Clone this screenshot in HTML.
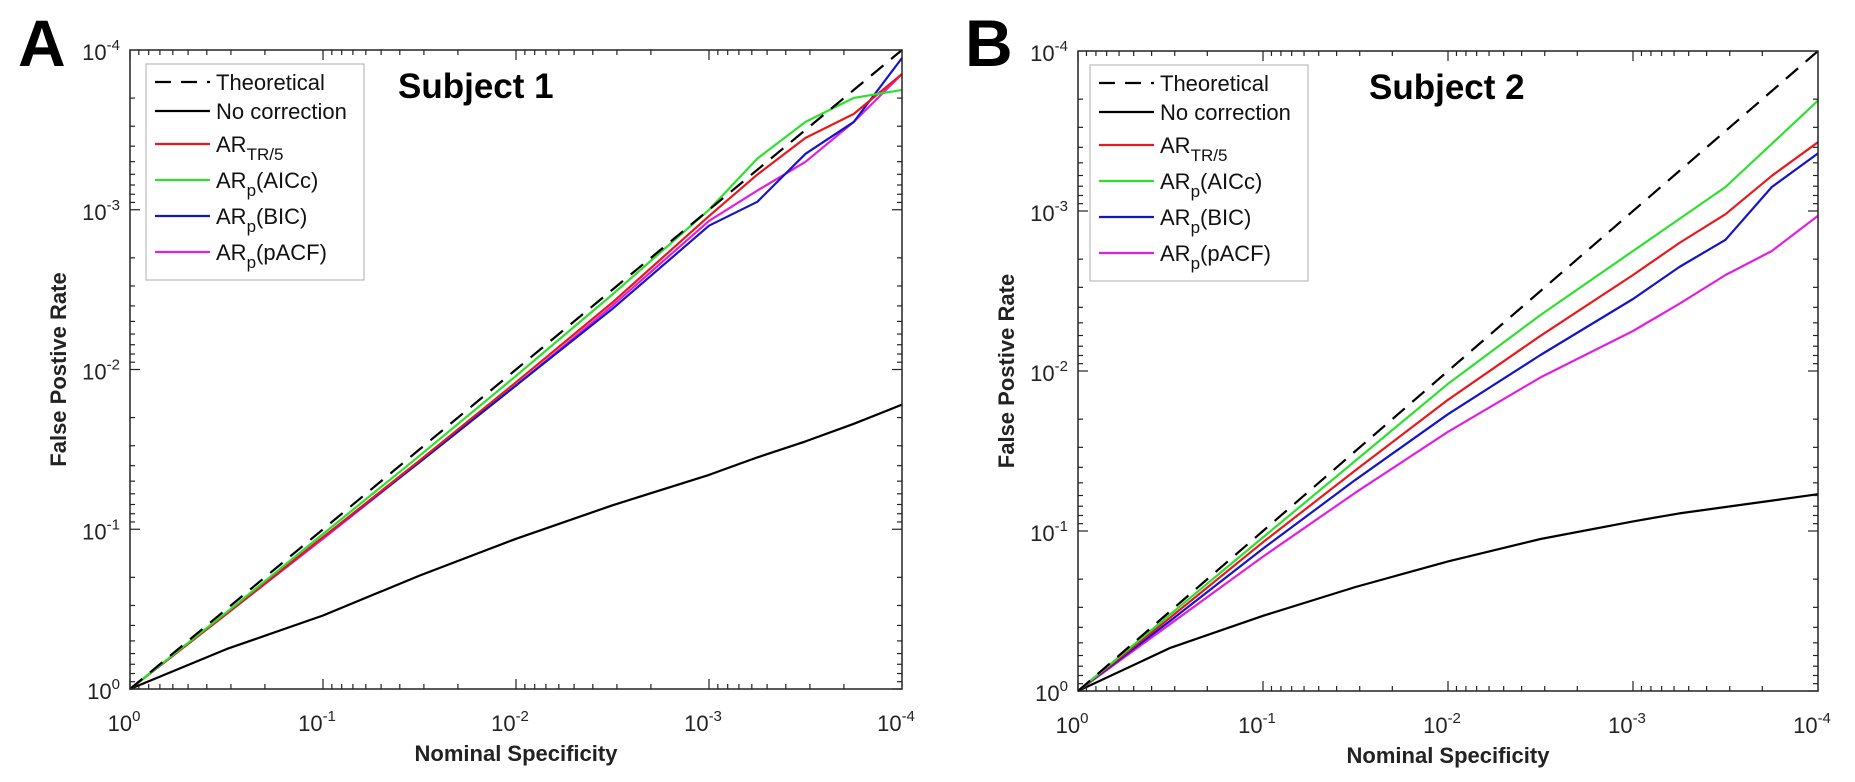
<!DOCTYPE html>
<html><head><meta charset="utf-8"><style>
html,body{margin:0;padding:0;background:#fff;}
svg{display:block;font-family:"Liberation Sans",Arial,sans-serif;}
</style></head><body>
<svg id="fig" width="1855" height="782" viewBox="0 0 1855 782" xmlns="http://www.w3.org/2000/svg">
<text x="18" y="66" font-size="66" font-weight="bold">A</text>
<text x="965" y="66" font-size="66" font-weight="bold">B</text>
</svg>
<script>
const tVals=[0,0.5,1,1.5,2,2.5,3,3.25,3.5,3.75,4];
const tickLabels=["0","-1","-2","-3","-4"];
const seriesNames=["Theoretical","No correction","AR_TR/5","AR_p(AICc)","AR_p(BIC)","AR_p(pACF)"];
const A_theo=[0,0.5,1,1.5,2,2.5,3,3.25,3.5,3.75,4];
const A_noc=[0,0.25,0.46,0.71,0.94,1.15,1.34,1.45,1.55,1.66,1.78];
const A_red=[0,0.47,0.95,1.43,1.92,2.42,2.96,3.22,3.45,3.6,3.85];
const A_green=[0,0.48,0.97,1.46,1.96,2.47,3.0,3.32,3.55,3.7,3.75];
const A_blue=[0,0.47,0.95,1.42,1.9,2.38,2.9,3.05,3.35,3.55,3.95];
const A_mag=[0,0.47,0.94,1.42,1.9,2.4,2.93,3.12,3.3,3.55,3.85];
const B_theo=[0,0.5,1,1.5,2,2.5,3,3.25,3.5,3.75,4];
const B_noc=[0,0.27,0.47,0.65,0.81,0.95,1.06,1.11,1.15,1.19,1.23];
const B_red=[0,0.46,0.93,1.38,1.82,2.22,2.6,2.8,2.98,3.22,3.43];
const B_green=[0,0.48,0.96,1.44,1.92,2.35,2.75,2.95,3.15,3.42,3.69];
const B_blue=[0,0.44,0.89,1.32,1.73,2.1,2.45,2.65,2.82,3.15,3.36];
const B_mag=[0,0.42,0.84,1.24,1.62,1.96,2.25,2.42,2.6,2.75,2.97];
const colors=["#000","#000","#e8191b","#2ee02e","#1515c8","#e020e0"];
const NS="http://www.w3.org/2000/svg";
const svg=document.getElementById('fig');
function mk(tag,attrs,parent){const e=document.createElementNS(NS,tag);for(const k in attrs)e.setAttribute(k,attrs[k]);(parent||svg).appendChild(e);return e;}
function panel(p){
  const g=mk('g',{});
  
  
  const L=p.L,R=p.R,T=p.T,B=p.B;
  const sx=v=>L+(R-L)*v/4, sy=v=>B-(B-T)*v/4;
  const data=[p.theo,p.noc,p.red,p.green,p.blue,p.mag];
  const order=[1,5,4,2,3,0];
  order.forEach(i=>{
    const pts=tVals.map((t,j)=>sx(t).toFixed(1)+','+sy(data[i][j]).toFixed(1)).join(' ');
    const pl=mk('polyline',{points:pts,fill:'none',stroke:colors[i],'stroke-width':2.2,'stroke-linejoin':'round'},g);
    if(i===0)pl.setAttribute('stroke-dasharray','16,10');
    
    
  });
  for(let d=0;d<4;d++){for(let m=1;m<=9;m++){
    const v=d+(m===1?0:(1-Math.log10(m)));
    const len=m===1?10:5;
    if(v>4)continue;
    const x=sx(v),y=sy(v);
    mk('line',{x1:x,y1:B,x2:x,y2:B-len,stroke:'#222','stroke-width':1.2},g);
    mk('line',{x1:x,y1:T,x2:x,y2:T+len,stroke:'#222','stroke-width':1.2},g);
    mk('line',{x1:L,y1:y,x2:L+len,y2:y,stroke:'#222','stroke-width':1.2},g);
    mk('line',{x1:R,y1:y,x2:R-len,y2:y,stroke:'#222','stroke-width':1.2},g);
  }}
  const frame=mk('rect',{x:L,y:T,width:R-L,height:B-T,fill:'none',stroke:'#222','stroke-width':1.5},g);
  
  
  tickLabels.forEach((lab,i)=>{
    const tx=mk('text',{x:sx(i)-6,y:B+42,'font-size':22,fill:'#222','text-anchor':'middle'},g);
    tx.innerHTML='10<tspan dy="-10" font-size="15">'+lab+'</tspan>';
    
    
    const ty=mk('text',{x:L-10,y:sy(i)+10,'font-size':22,fill:'#222','text-anchor':'end'},g);
    ty.innerHTML='10<tspan dy="-10" font-size="15">'+lab+'</tspan>';
    
    
  });
  const xl=mk('text',{x:(L+R)/2,y:B+72,'font-size':22,'font-weight':'bold',fill:'#222','text-anchor':'middle'},g);
  xl.textContent='Nominal Specificity';
  
  
  const yl=mk('text',{x:0,y:0,'font-size':22,'font-weight':'bold',fill:'#222','text-anchor':'middle',transform:'translate('+(L-64)+','+((T+B)/2)+') rotate(-90)'},g);
  yl.textContent='False Postive Rate';
  
  
  const ti=mk('text',{x:p.titleX,y:T+48,'font-size':35,'font-weight':'bold',fill:'#000'},g);
  ti.textContent=p.title;
  
  
  const lg=mk('g',{},g);
  
  
  const lx=p.legX;
  mk('rect',{x:lx,y:T+14,width:218,height:216,fill:'#fff',stroke:'#bbb','stroke-width':1.2},lg);
  const rowsY=[32,61,94,130,166,202];
  const labels=['Theoretical','No correction','AR<tspan dy="8" font-size="17">TR/5</tspan>','AR<tspan dy="8" font-size="17">p</tspan><tspan dy="-8">(AICc)</tspan>','AR<tspan dy="8" font-size="17">p</tspan><tspan dy="-8">(BIC)</tspan>','AR<tspan dy="8" font-size="17">p</tspan><tspan dy="-8">(pACF)</tspan>'];
  rowsY.forEach((ry,i)=>{
    const y=T+ry;
    const ln=mk('line',{x1:lx+9,y1:y,x2:lx+64,y2:y,stroke:colors[i],'stroke-width':2.2},lg);
    if(i===0)ln.setAttribute('stroke-dasharray','16,10');
    const tx=mk('text',{x:lx+70,y:y+8,'font-size':22,fill:'#111'},lg);
    tx.innerHTML=labels[i];
    
    
  });
}
panel({id:'panel-a',L:130,R:902,T:50,B:689,title:'Subject 1',titleX:398,legX:146,
  theo:A_theo,noc:A_noc,red:A_red,green:A_green,blue:A_blue,mag:A_mag});
panel({id:'panel-b',L:1078,R:1818,T:51,B:691,title:'Subject 2',titleX:1369,legX:1090,
  theo:B_theo,noc:B_noc,red:B_red,green:B_green,blue:B_blue,mag:B_mag});
</script>
</body></html>
